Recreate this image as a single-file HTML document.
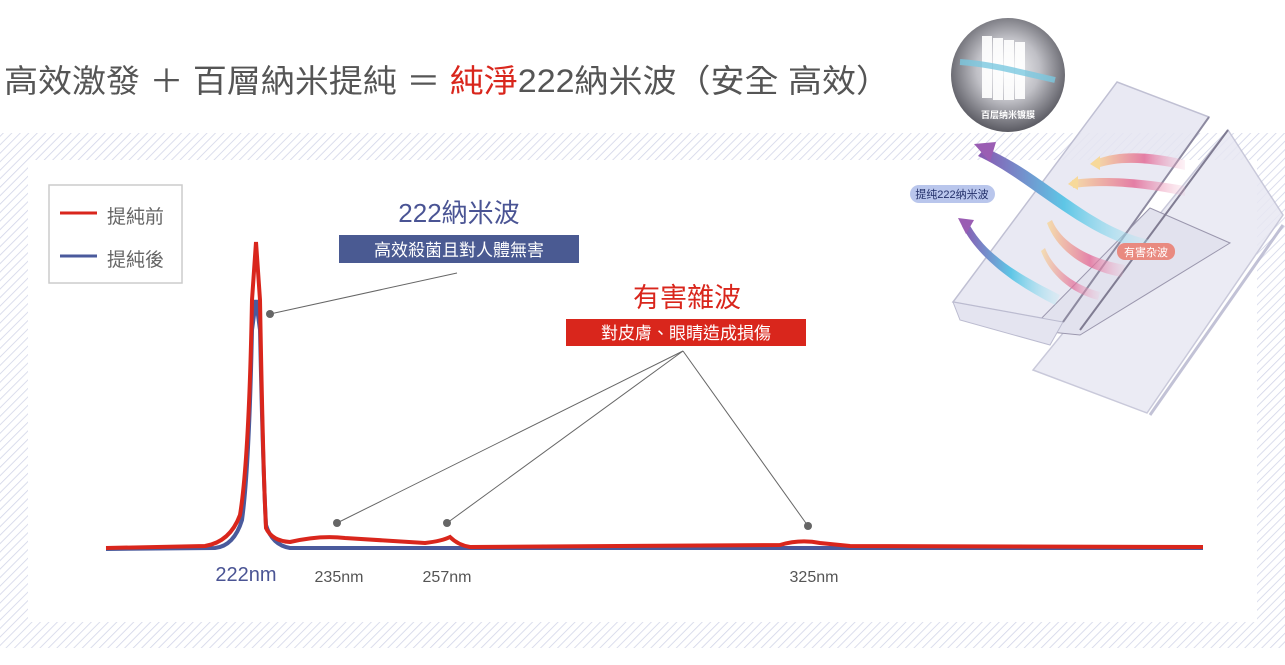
<!DOCTYPE html>
<html><head><meta charset="utf-8"><style>
html,body{margin:0;padding:0;background:#fff;width:1285px;height:665px;overflow:hidden}
svg{display:block;font-family:"Liberation Sans","Noto Sans CJK TC",sans-serif}
</style></head><body>
<svg width="1285" height="665" viewBox="0 0 1285 665" xmlns="http://www.w3.org/2000/svg">
<defs>
<pattern id="hatch" width="6" height="6" patternUnits="userSpaceOnUse" patternTransform="rotate(45)">
<rect width="6" height="6" fill="#fff"/><line x1="0" y1="0" x2="0" y2="6" stroke="#d2d5e8" stroke-width="1.6"/>
</pattern>
<radialGradient id="orb" cx="50%" cy="45%" r="55%"><stop offset="0" stop-color="#f6f6f8"/><stop offset="0.5" stop-color="#c0c0c6"/><stop offset="1" stop-color="#5a5a62"/></radialGradient>
<linearGradient id="blueArr" x1="1" y1="0" x2="0" y2="0"><stop offset="0" stop-color="#bfeaf3" stop-opacity="0.3"/><stop offset="0.5" stop-color="#5ec6e6"/><stop offset="1" stop-color="#8a56b0"/></linearGradient>
<linearGradient id="warmArr" x1="1" y1="0" x2="0" y2="0"><stop offset="0" stop-color="#f2b6cd" stop-opacity="0.2"/><stop offset="0.45" stop-color="#e36b97"/><stop offset="1" stop-color="#f7d99a"/></linearGradient>
</defs>
<rect x="0" y="133" width="1285" height="515" fill="url(#hatch)"/>
<rect x="28" y="160" width="1229" height="462" fill="#fff"/>

<text x="4" y="92" font-size="32" fill="#555" textLength="886" lengthAdjust="spacingAndGlyphs">高效激發 ＋ 百層納米提純 ＝ <tspan fill="#d9261c">純淨</tspan>222納米波（安全 高效）</text>

<g opacity="0.85">
<polygon points="1228,130 1283,215 1147,413 1033,370" fill="#e8e8f3" stroke="#c0c0d4" stroke-width="1.5"/>
<polygon points="1117,82 1209,117 1063,322 953,302" fill="#e6e6f2" stroke="#b6b6cc" stroke-width="1.5"/>
<polygon points="1150,208 1230,243 1080,335 1030,330" fill="#dedeec" stroke="#8a86a0" stroke-width="1"/>
<polygon points="953,302 1063,322 1050,345 960,320" fill="#e0e0ee" stroke="#b0b0c8" stroke-width="1"/>
<line x1="1228" y1="130" x2="1080" y2="330" stroke="#6a6680" stroke-width="2"/>
<line x1="1209" y1="117" x2="1063" y2="322" stroke="#7a7690" stroke-width="2"/>
<line x1="1283" y1="225" x2="1150" y2="415" stroke="#b8b8d0" stroke-width="3"/>
</g>
<path d="M1185,160 C1150,152 1120,150 1095,160 L1097,168 C1120,160 1150,162 1185,170 Z" fill="url(#warmArr)" opacity="0.85"/>
<polygon points="1090,164 1100,156 1100,170" fill="#f7d99a"/>
<path d="M1185,186 C1140,178 1100,176 1072,180 L1073,188 C1100,184 1140,186 1185,196 Z" fill="url(#warmArr)" opacity="0.85"/>
<polygon points="1068,184 1078,176 1078,190" fill="#f7d99a"/>
<path d="M1150,240 C1090,228 1040,170 985,148 L978,156 C1030,180 1080,235 1145,250 Z" fill="url(#blueArr)"/>
<polygon points="974,144 990,162 996,142" fill="#9a5db3"/>
<path d="M1060,295 C1020,275 985,255 968,222 L962,226 C978,258 1015,285 1055,305 Z" fill="url(#blueArr)"/>
<polygon points="958,218 966,234 974,220" fill="#9a5db3"/>
<path d="M1125,265 C1085,258 1060,240 1052,220 L1047,223 C1056,248 1082,270 1122,277 Z" fill="url(#warmArr)" opacity="0.8"/>
<path d="M1100,292 C1070,284 1052,266 1045,248 L1041,251 C1049,272 1068,292 1098,300 Z" fill="url(#warmArr)" opacity="0.7"/>
<circle cx="1008" cy="75" r="57" fill="url(#orb)"/>
<g fill="#fff" opacity="0.92"><rect x="982" y="36" width="10" height="62"/><rect x="993" y="38" width="10" height="62"/><rect x="1004" y="40" width="10" height="60"/><rect x="1015" y="42" width="10" height="57"/></g>
<path d="M1055,80 C1020,72 990,64 960,62" stroke="#7ac8e0" stroke-width="6" fill="none" opacity="0.8"/>
<text x="1008" y="118" font-size="9" font-weight="bold" fill="#fff" text-anchor="middle">百层纳米镀膜</text>
<rect x="910" y="185" width="85" height="18" rx="9" fill="#b9c6ec"/>
<text x="952" y="198" font-size="11" fill="#23306a" text-anchor="middle">提纯222纳米波</text>
<rect x="1117" y="243" width="58" height="17" rx="8" fill="#e98a80"/>
<text x="1146" y="256" font-size="11" fill="#fff" text-anchor="middle">有害杂波</text>

<rect x="49" y="185" width="133" height="98" fill="#fff" stroke="#ccc" stroke-width="1.5"/>
<line x1="60" y1="213" x2="97" y2="213" stroke="#d9261c" stroke-width="3"/>
<line x1="60" y1="256" x2="97" y2="256" stroke="#4a5a9c" stroke-width="3"/>
<text x="107" y="223" font-size="19" fill="#666">提純前</text>
<text x="107" y="266" font-size="19" fill="#666">提純後</text>

<text x="459" y="222" font-size="26" fill="#4a5494" text-anchor="middle">222納米波</text>
<rect x="339" y="235" width="240" height="28" fill="#4a5a92"/>
<text x="459" y="256" font-size="17" fill="#fff" text-anchor="middle">高效殺菌且對人體無害</text>
<text x="687" y="307" font-size="27" fill="#d9261c" text-anchor="middle">有害雜波</text>
<rect x="566" y="319" width="240" height="27" fill="#d9261c"/>
<text x="686" y="339" font-size="17" fill="#fff" text-anchor="middle">對皮膚、眼睛造成損傷</text>

<g stroke="#666" stroke-width="1" fill="none">
<line x1="457" y1="273" x2="270" y2="314"/>
<line x1="683" y1="351" x2="337" y2="523"/>
<line x1="683" y1="351" x2="447" y2="523"/>
<line x1="683" y1="351" x2="808" y2="526"/>
</g>
<g fill="#666"><circle cx="270" cy="314" r="4"/><circle cx="337" cy="523" r="4"/><circle cx="447" cy="523" r="4"/><circle cx="808" cy="526" r="4"/></g>

<path d="M106,549 L215,548 Q234,546 242,520 Q249,470 252,330 L256,300 L260,330 Q263,470 266,525 Q272,545 290,548 L1203,548" stroke="#4a5a9c" stroke-width="4" fill="none"/>
<path d="M106,548 L205,546 Q230,542 240,515 Q249,460 252,300 L256,242 L260,300 Q263,470 266,528 Q272,541 290,542 Q320,535 345,538 L425,543 Q442,541 450,537 Q458,545 470,547 L780,545 Q800,539 820,543 L850,546 L1203,547" stroke="#d9261c" stroke-width="4" fill="none"/>

<text x="246" y="581" font-size="20" fill="#4a5494" text-anchor="middle">222nm</text>
<g font-size="16" fill="#555" text-anchor="middle"><text x="339" y="582">235nm</text><text x="447" y="582">257nm</text><text x="814" y="582">325nm</text></g>
</svg>
</body></html>
